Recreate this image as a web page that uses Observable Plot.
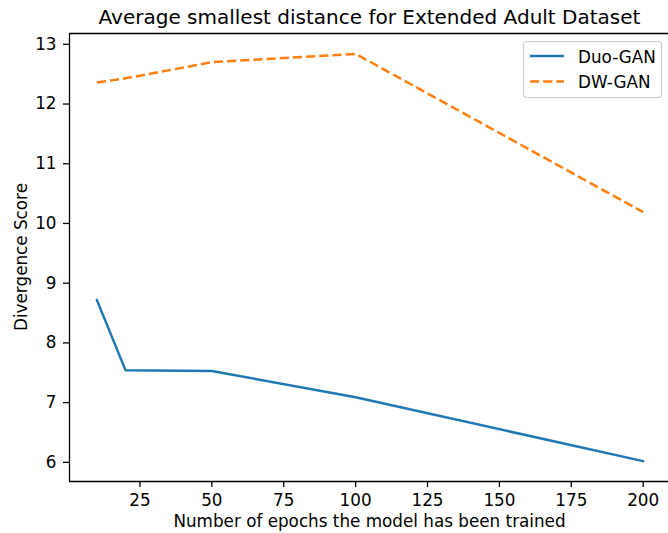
<!DOCTYPE html>
<html>
<head>
<meta charset="utf-8">
<script src="https://cdn.jsdelivr.net/npm/d3@7"></script>
<script src="https://cdn.jsdelivr.net/npm/@observablehq/plot@0.6"></script>
<style>
  html, body { margin: 0; padding: 0; background: #fff; }
  #chart svg { display: block; font-family: "DejaVu Sans", sans-serif; }
</style>
</head>
<body>
<div id="chart"></div>
<script>
// Training epochs and average smallest distance per model
const epochs = [10, 20, 50, 100, 200];
const duoGan = [8.72, 7.54, 7.53, 7.09, 6.02];
const dwGan = [12.36, 12.43, 12.70, 12.84, 10.19];
const seriesNames = ["Duo-GAN", "DW-GAN"];
const seriesColors = ["#1f77b4", "#ff7f0e"];
const xTicks = [25, 50, 75, 100, 125, 150, 175, 200];
const yTicks = [6, 7, 8, 9, 10, 11, 12, 13];

const titleText = "Average smallest distance for Extended Adult Dataset";
const xLabel = "Number of epochs the model has been trained";
const yLabel = "Divergence Score";

const rows = [
  ...epochs.map((e, i) => ({epoch: e, value: duoGan[i], series: seriesNames[0]})),
  ...epochs.map((e, i) => ({epoch: e, value: dwGan[i], series: seriesNames[1]}))
];

// 5% padding around the data, like the usual autoscaled axes
const pad = (ext) => { const d = (ext[1] - ext[0]) * 0.05; return [ext[0] - d, ext[1] + d]; };
const xDomain = pad(d3.extent(epochs));
const yDomain = pad(d3.extent(rows, d => d.value));

const W = 668, H = 533;
const mLeft = 69, mTop = 33, mBottom = 52;
const lw = 2.5;
const fs = 16.8;

const plot = Plot.plot({
  width: W,
  height: H,
  marginLeft: mLeft,
  marginRight: 0,
  marginTop: mTop,
  marginBottom: mBottom,
  style: {fontFamily: "DejaVu Sans, sans-serif", fontSize: fs + "px", color: "#000", background: "#fff"},
  x: {domain: xDomain, range: [mLeft, 670]},
  y: {domain: yDomain},
  marks: [
    // spines: left, bottom, top
    Plot.ruleX([xDomain[0]], {stroke: "#000", strokeWidth: 1.3}),
    Plot.ruleY(yDomain, {stroke: "#000", strokeWidth: 1.3}),
    Plot.axisX({ticks: xTicks, tickSize: 6, tickPadding: 7, label: null, fontSize: fs, strokeWidth: 1.3}),
    Plot.axisY({ticks: yTicks, tickSize: 6, tickPadding: 7, label: null, fontSize: fs, strokeWidth: 1.3}),
    Plot.line(rows.filter(d => d.series === seriesNames[0]), {
      x: "epoch", y: "value", stroke: seriesColors[0], strokeWidth: lw
    }),
    Plot.line(rows.filter(d => d.series === seriesNames[1]), {
      x: "epoch", y: "value", stroke: seriesColors[1], strokeWidth: lw,
      strokeDasharray: "9.2,4", strokeLinecap: "butt"
    })
  ]
});

const svg = d3.select(plot);
const cx = (mLeft + 670) / 2;

// title and axis labels
svg.append("text")
  .attr("x", cx).attr("y", 24)
  .attr("text-anchor", "middle")
  .attr("font-size", 20)
  .attr("fill", "#000")
  .text(titleText);

svg.append("text")
  .attr("x", cx).attr("y", 527)
  .attr("text-anchor", "middle")
  .attr("font-size", fs)
  .attr("fill", "#000")
  .text(xLabel);

svg.append("text")
  .attr("transform", `translate(27,${(mTop + (H - mBottom)) / 2}) rotate(-90)`)
  .attr("text-anchor", "middle")
  .attr("font-size", fs)
  .attr("fill", "#000")
  .text(yLabel);

// legend box, upper right
const lg = svg.append("g");
lg.append("rect")
  .attr("x", 523.5).attr("y", 41.5).attr("width", 138).attr("height", 56)
  .attr("rx", 3.5)
  .attr("fill", "#fff").attr("fill-opacity", 0.8)
  .attr("stroke", "#cccccc").attr("stroke-width", 1.2);
seriesNames.forEach((name, i) => {
  const y = 56 + i * 25.5;
  lg.append("line")
    .attr("x1", 530).attr("x2", 564).attr("y1", y).attr("y2", y)
    .attr("stroke", seriesColors[i]).attr("stroke-width", lw)
    .attr("stroke-dasharray", i === 1 ? "9.2,4" : null);
  lg.append("text")
    .attr("x", 578).attr("y", y + 6.5)
    .attr("text-anchor", "start")
    .attr("font-size", fs).attr("fill", "#000")
    .text(name);
});

document.getElementById("chart").appendChild(plot);
</script>
</body>
</html>
